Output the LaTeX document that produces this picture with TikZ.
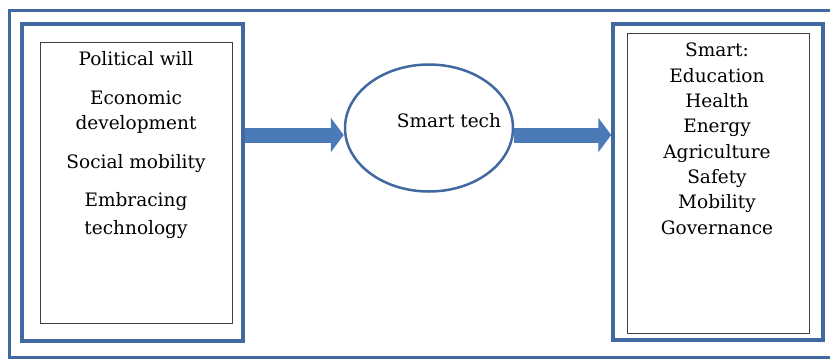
\documentclass[tikz,border=0pt]{standalone}
\usepackage{fontspec}
\setmainfont{DejaVu Serif}
\usetikzlibrary{positioning,arrows.meta,shapes.geometric,calc}
\definecolor{frameblue}{RGB}{65,105,160}
\definecolor{arrowblue}{RGB}{74,122,184}

\begin{document}
\begin{tikzpicture}[x=1pt,y=1pt,yscale=-1,xscale=1,
  bluebox/.style={draw=frameblue,line width=3.5pt,inner sep=0pt},
  thinbox/.style={draw=black!75,line width=0.8pt,inner sep=0pt},
  boxtext/.style={align=center,inner sep=0pt,font=\fontsize{18.5}{25}\selectfont},
  bigarrow/.style={draw=arrowblue,line width=15pt,-{Triangle[length=13pt,width=34pt]}}]
\useasboundingbox (0,0) rectangle (830,360);
% outer frame, open on the right
\draw [draw=frameblue,line width=3pt] (832,10) -- (9,10) -- (9,357) -- (832,357) ;

% left block
\node [bluebox,minimum width=221pt,minimum height=317pt] (lbox) at (132.5,182.5) {};
\node [thinbox,minimum width=192pt,minimum height=281pt] (lpanel) at (136,182.5) {};
\node [boxtext,anchor=north] (ltext) at (136,51) {Political will\\[14pt] Economic\\ development\\[14pt] Social mobility\\[13pt] Embracing\\[3pt] technology};

% middle
\node [draw=frameblue,line width=2.5pt,ellipse,minimum width=168pt,minimum height=127pt] (hub) at (429,128) {};
\node [boxtext] (hubtext) at (449,121) {Smart tech};

% right block
\node [bluebox,minimum width=210pt,minimum height=316pt] (rbox) at (718,182) {};
\node [thinbox,minimum width=182pt,minimum height=300pt] (rpanel) at (718,183) {};
\node [boxtext,anchor=north,font=\fontsize{18.5}{25.3}\selectfont] (rtext) at (717,43) {Smart:\\ Education\\ Health\\ Energy\\ Agriculture\\ Safety\\ Mobility\\ Governance};

% arrows
\draw [bigarrow] ($(lbox.east |- hub.west)+(0,7)$) -- ($(hub.west)+(0,7)$) ;
\draw [bigarrow] ($(hub.east)+(0,7)$) -- ($(rbox.west |- hub.east)+(0,7)$) ;

\end{tikzpicture}
\end{document}
